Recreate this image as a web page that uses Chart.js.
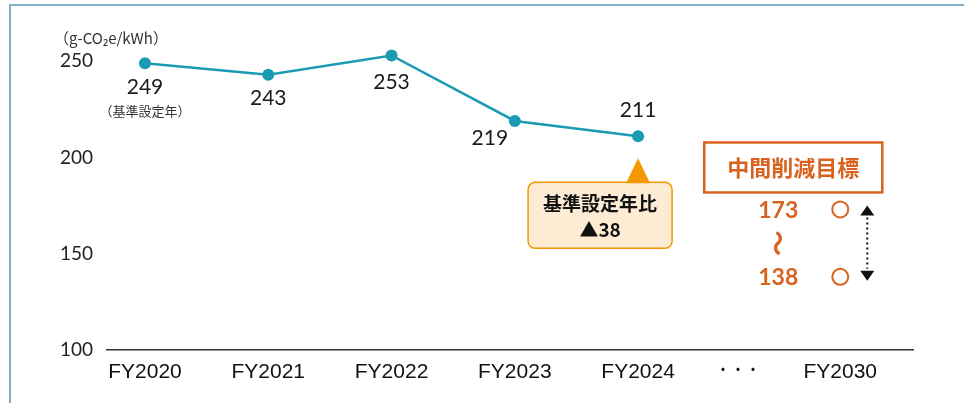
<!DOCTYPE html>
<html>
<head>
<meta charset="utf-8">
<script src="https://cdn.jsdelivr.net/npm/chart.js@4"></script>
<style>
  html, body { margin: 0; padding: 0; background: #fff; }
  #wrap { width: 964px; height: 403px; position: relative; }
</style>
</head>
<body>
<div id="wrap"><canvas id="c" width="964" height="403"></canvas></div>
<script>
// Emission intensity by fiscal year
const fiscalYears = ['FY2020', 'FY2021', 'FY2022', 'FY2023', 'FY2024'];
const intensity = [249, 243, 253, 219, 211];
const gapLabel = '・・・';
const targetYear = 'FY2030';
const targetRange = [173, 138];
const yTickValues = [100, 150, 200, 250];
const unitLabel = '（g-CO₂e/kWh）';
const baseYearNote = '（基準設定年）';
const calloutTitle = '基準設定年比';
const targetTitle = '中間削減目標';

const JP = '"Noto Sans CJK JP", "Noto Sans", sans-serif';
const NUM = 'Lato, "Noto Sans", sans-serif';
const TEAL = '#1a9ab3';
const ORANGE = '#d9621f';
const AMBER = '#f39800';

// x positions: one step per fiscal year, then a compressed gap before the target year
const gapPos = 4.81;
const targetPos = 5.64;
const xTickPositions = [...fiscalYears.map((_, i) => i), gapPos, targetPos];
const xTickLabels = [...fiscalYears, gapLabel, targetYear];

const framePlugin = {
  id: 'frame',
  beforeDraw(chart) {
    const ctx = chart.ctx;
    ctx.save();
    ctx.strokeStyle = '#7fb0c3';
    ctx.lineWidth = 2;
    ctx.beginPath();
    ctx.moveTo(10, chart.height);
    ctx.lineTo(10, 5);
    ctx.lineTo(chart.width, 5);
    ctx.stroke();
    ctx.restore();
  }
};

function roundRect(ctx, x, y, w, h, r) {
  ctx.beginPath();
  ctx.moveTo(x + r, y);
  ctx.lineTo(x + w - r, y);
  ctx.arcTo(x + w, y, x + w, y + r, r);
  ctx.lineTo(x + w, y + h - r);
  ctx.arcTo(x + w, y + h, x + w - r, y + h, r);
  ctx.lineTo(x + r, y + h);
  ctx.arcTo(x, y + h, x, y + h - r, r);
  ctx.lineTo(x, y + r);
  ctx.arcTo(x, y, x + r, y, r);
  ctx.closePath();
}

const annotationPlugin = {
  id: 'annotations',
  afterDatasetsDraw(chart) {
    const ctx = chart.ctx;
    const xs = chart.scales.x, ys = chart.scales.y;
    const pts = chart.getDatasetMeta(0).data;
    ctx.save();
    ctx.textAlign = 'center';
    ctx.textBaseline = 'middle';

    // unit label above the y axis
    ctx.font = '15px ' + JP;
    ctx.fillStyle = '#333';
    ctx.textAlign = 'left';
    ctx.fillText(unitLabel, 54, 38);
    ctx.textAlign = 'center';

    // value labels beside each point
    const offsets = [[0, 24], [0, 24], [0, 27], [-25, 17], [0, -26]];
    ctx.font = '21px ' + NUM;
    ctx.fillStyle = '#1a1a1a';
    pts.forEach((p, i) => {
      const [dx, dy] = offsets[i];
      ctx.fillText(String(intensity[i]), p.x + dx, p.y + dy);
    });
    ctx.font = '13px ' + JP;
    ctx.fillStyle = '#333';
    ctx.fillText(baseYearNote, pts[0].x, pts[0].y + 48);

    // callout under the latest year: change versus the base year
    const last = pts[pts.length - 1];
    const diff = intensity[0] - intensity[intensity.length - 1];
    const bx = last.x - 110, by = last.y + 46, bw = 144, bh = 66;
    roundRect(ctx, bx, by, bw, bh, 7);
    ctx.fillStyle = '#fdebd3';
    ctx.fill();
    ctx.strokeStyle = AMBER;
    ctx.lineWidth = 1.5;
    ctx.stroke();
    ctx.beginPath();
    ctx.moveTo(last.x, last.y + 22);
    ctx.lineTo(last.x + 12, by + 1);
    ctx.lineTo(last.x - 12, by + 1);
    ctx.closePath();
    ctx.fillStyle = AMBER;
    ctx.fill();
    ctx.fillStyle = '#111';
    ctx.font = 'bold 19px ' + JP;
    ctx.fillText(calloutTitle, bx + bw / 2, by + 21);
    ctx.fillText('▲' + diff, bx + bw / 2, by + 47);

    // mid-term reduction target panel
    const xT = xs.getPixelForValue(targetPos);
    const yA = ys.getPixelForValue(targetRange[0]);
    const yB = ys.getPixelForValue(targetRange[1]);
    ctx.strokeStyle = ORANGE;
    ctx.lineWidth = 2.5;
    ctx.strokeRect(xT - 136, yA - 67, 178, 50);
    ctx.fillStyle = ORANGE;
    ctx.font = 'bold 22px ' + JP;
    ctx.fillText(targetTitle, xT - 47, yA - 42);
    ctx.font = 'bold 23px ' + NUM;
    ctx.fillText(String(targetRange[0]), xT - 62, yA + 1);
    ctx.fillText(String(targetRange[1]), xT - 62, yB + 1);
    ctx.save();
    ctx.translate(xT - 62, (yA + yB) / 2);
    ctx.rotate(Math.PI / 2);
    ctx.font = 'bold 26px ' + JP;
    ctx.fillText('〜', 0, 0);
    ctx.restore();

    // dotted double arrow between the two target values
    const ax = xT + 27;
    ctx.fillStyle = '#111';
    ctx.beginPath();
    ctx.moveTo(ax, yA - 4); ctx.lineTo(ax + 7, yA + 6); ctx.lineTo(ax - 7, yA + 6);
    ctx.closePath(); ctx.fill();
    ctx.beginPath();
    ctx.moveTo(ax, yB + 4); ctx.lineTo(ax + 7, yB - 6); ctx.lineTo(ax - 7, yB - 6);
    ctx.closePath(); ctx.fill();
    ctx.strokeStyle = '#111';
    ctx.lineWidth = 2;
    ctx.setLineDash([2, 3]);
    ctx.beginPath();
    ctx.moveTo(ax, yA + 8);
    ctx.lineTo(ax, yB - 8);
    ctx.stroke();
    ctx.restore();
  }
};

new Chart(document.getElementById('c'), {
  type: 'line',
  data: {
    datasets: [
      {
        data: intensity.map((v, i) => ({ x: i, y: v })),
        borderColor: TEAL,
        backgroundColor: TEAL,
        borderWidth: 2.5,
        pointRadius: 6,
        pointHoverRadius: 6,
        pointBackgroundColor: TEAL,
        pointBorderWidth: 0,
        tension: 0
      },
      {
        data: targetRange.map(v => ({ x: targetPos, y: v })),
        showLine: false,
        pointRadius: 8,
        pointHoverRadius: 8,
        pointBackgroundColor: '#fff',
        pointBorderColor: ORANGE,
        pointBorderWidth: 2
      }
    ]
  },
  options: {
    responsive: false,
    animation: false,
    events: [],
    layout: { padding: { top: 42, right: 51, bottom: 0, left: 0 } },
    plugins: { legend: { display: false }, tooltip: { enabled: false } },
    scales: {
      x: {
        type: 'linear',
        min: -0.308,
        max: 6.23,
        grid: { display: false },
        border: { display: true, color: '#333', width: 1.5 },
        afterBuildTicks: s => { s.ticks = xTickPositions.map(v => ({ value: v })); },
        afterFit: s => { s.height = 53; s.paddingLeft = 0; s.paddingRight = 0; },
        ticks: {
          autoSkip: false,
          maxRotation: 0,
          padding: 2,
          color: '#111',
          font: ctx => ctx.index === xTickLabels.indexOf(gapLabel)
            ? { family: JP, size: 15 }
            : { family: '"Liberation Sans", Arial, sans-serif', size: 21 },
          callback: (v, i) => xTickLabels[i]
        }
      },
      y: {
        min: 100,
        max: 260,
        grid: { display: false },
        border: { display: false },
        afterBuildTicks: s => { s.ticks = yTickValues.map(v => ({ value: v })); },
        afterFit: s => { s.width = 107; },
        ticks: {
          padding: 6,
          color: '#222',
          font: { family: NUM, size: 19 }
        }
      }
    }
  },
  plugins: [framePlugin, annotationPlugin]
});
</script>
</body>
</html>
